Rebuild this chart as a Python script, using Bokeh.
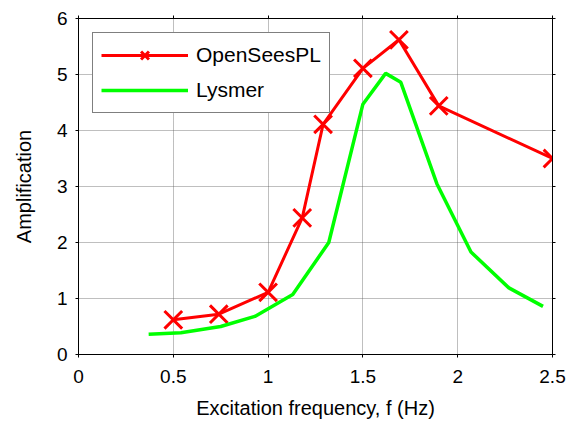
from bokeh.plotting import figure
from bokeh.models import LinearAxis, FixedTicker, Range1d
from bokeh.embed import file_html
from bokeh.resources import INLINE

# Amplification vs excitation frequency
freq_opensees = [0.5, 0.74, 1.0, 1.18, 1.29, 1.5, 1.69, 1.9, 2.5]
amp_opensees = [0.62, 0.72, 1.11, 2.44, 4.11, 5.11, 5.62, 4.44, 3.5]

freq_lysmer = [0.37, 0.54, 0.75, 0.93, 1.13, 1.32, 1.5, 1.62, 1.70, 1.89, 2.07, 2.27, 2.45]
amp_lysmer = [0.36, 0.39, 0.50, 0.68, 1.07, 2.0, 4.47, 5.02, 4.86, 3.05, 1.83, 1.19, 0.86]

x_ticks = [0, 0.5, 1, 1.5, 2, 2.5]
x_tick_labels = ["0", "0.5", "1", "1.5", "2", "2.5"]
y_ticks = [0, 1, 2, 3, 4, 5, 6]
y_tick_labels = ["0", "1", "2", "3", "4", "5", "6"]

FONT = "Liberation Sans"

p = figure(
    width=574, height=423,
    x_range=Range1d(0, 2.5), y_range=Range1d(0, 6),
    output_backend="svg", toolbar_location=None,
    min_border_left=78, min_border_right=22,
    min_border_top=18, min_border_bottom=69,
    x_axis_label="Excitation frequency, f (Hz)",
    y_axis_label="Amplification",
)
p.outline_line_color = "black"
p.outline_line_width = 1
p.background_fill_color = "white"
p.border_fill_color = "white"

p.line(freq_opensees, amp_opensees, line_color="#FF0000", line_width=3,
       legend_label="OpenSeesPL")
p.scatter(freq_opensees, amp_opensees, marker="x", size=25,
          line_color="#FF0000", line_width=3, legend_label="OpenSeesPL")
p.line(freq_lysmer, amp_lysmer, line_color="#00FF00", line_width=3.5,
       legend_label="Lysmer")

# main axes
for ax, ticks, labels in ((p.xaxis[0], x_ticks, x_tick_labels),
                          (p.yaxis[0], y_ticks, y_tick_labels)):
    ax.ticker = FixedTicker(ticks=ticks)
    ax.major_label_overrides = {t: s for t, s in zip(ticks, labels)}
    ax.minor_tick_line_color = None
    ax.major_tick_in = 0
    ax.major_tick_out = 3
    ax.axis_line_color = "black"
    ax.major_tick_line_color = "black"
    ax.major_label_text_font = FONT
    ax.major_label_text_font_size = "19px"
    ax.major_label_text_color = "black"
    ax.axis_label_text_font = FONT
    ax.axis_label_text_font_size = "20px"
    ax.axis_label_text_font_style = "normal"
    ax.axis_label_text_color = "black"

p.xaxis[0].major_label_standoff = 12
p.xaxis[0].axis_label_standoff = 11
p.yaxis[0].major_label_standoff = 8
p.yaxis[0].axis_label_standoff = 19

# tick marks on the top and right edges of the box (no labels)
top_ax = LinearAxis(ticker=FixedTicker(ticks=x_ticks))
right_ax = LinearAxis(ticker=FixedTicker(ticks=y_ticks))
for ax, ticks in ((top_ax, x_ticks), (right_ax, y_ticks)):
    ax.major_label_overrides = {t: "" for t in ticks}
    ax.major_label_standoff = 0
    ax.minor_tick_line_color = None
    ax.major_tick_in = 0
    ax.major_tick_out = 3
    ax.axis_line_color = "black"
    ax.major_tick_line_color = "black"
p.add_layout(top_ax, "above")
p.add_layout(right_ax, "right")

# dotted grid
for g in (p.xgrid[0], p.ygrid[0]):
    g.grid_line_color = "#606060"
    g.grid_line_dash = "1 1"
    g.grid_line_width = 1
    g.grid_line_alpha = 0.8

# legend
lg = p.legend[0]
lg.location = "top_left"
lg.margin = 14
lg.padding = 8
lg.spacing = 7
lg.glyph_width = 87
lg.glyph_height = 28
lg.label_height = 28
lg.label_standoff = 8
lg.label_text_font = FONT
lg.label_text_font_size = "21px"
lg.label_text_color = "black"
lg.border_line_color = "black"
lg.border_line_width = 1
lg.background_fill_color = "white"
lg.background_fill_alpha = 1

open("out.html", "w").write(file_html(p, INLINE))
